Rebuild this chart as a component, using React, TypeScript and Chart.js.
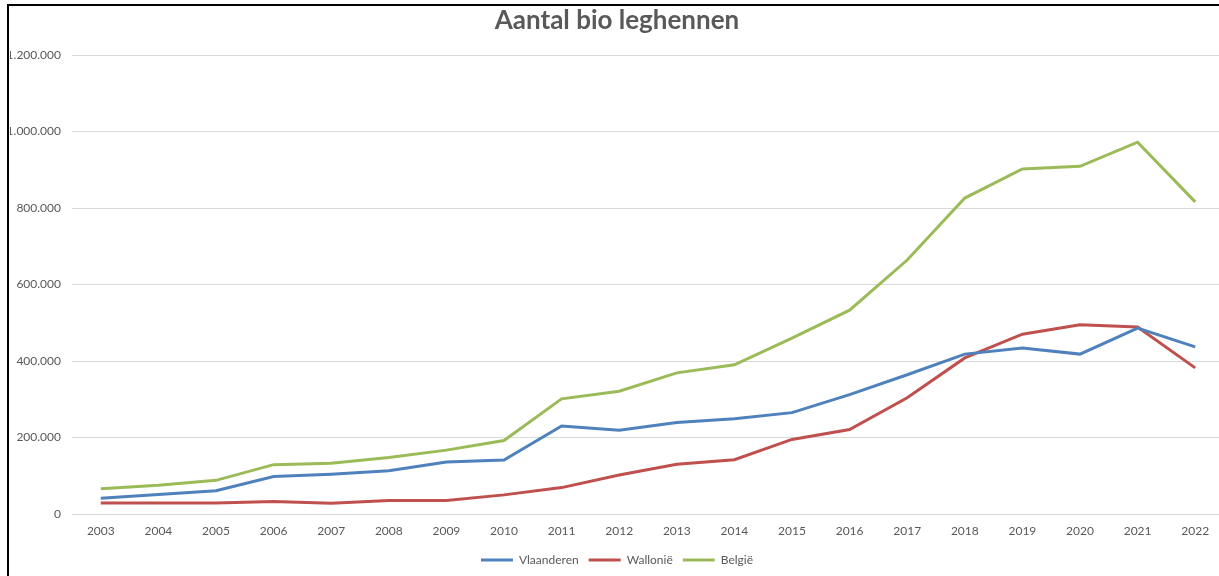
import React, { useEffect, useRef } from "react";
import { Chart, registerables } from "chart.js";

Chart.register(...registerables);

const years = ["2003", "2004", "2005", "2006", "2007", "2008", "2009", "2010", "2011", "2012", "2013", "2014", "2015", "2016", "2017", "2018", "2019", "2020", "2021", "2022"];
const vlaanderen = [41000, 51000, 61000, 98000, 104000, 113000, 136000, 141000, 230000, 219000, 239000, 249000, 265000, 312000, 364000, 418000, 434000, 418000, 486000, 437000];
const wallonie = [29000, 29000, 29000, 33000, 28000, 35000, 35000, 50000, 69000, 102000, 130000, 142000, 195000, 221000, 304000, 408000, 470000, 495000, 489000, 382000];
const belgie = [66000, 75000, 88000, 129000, 133000, 148000, 167000, 192000, 301000, 321000, 369000, 390000, 460000, 533000, 664000, 826000, 902000, 909000, 972000, 816000];
const seriesNames = ["Vlaanderen", "Wallonië", "België"];
const seriesColors = ["#4F81BD", "#C0504D", "#9BBB59"];
const chartTitle = "Aantal bio leghennen";

const fmt = (v: number) => String(Math.round(v)).replace(/\B(?=(\d{3})+(?!\d))/g, ".");

export default function App() {
  const ref = useRef<HTMLCanvasElement | null>(null);
  useEffect(() => {
    if (!ref.current) return;
    const values = [vlaanderen, wallonie, belgie];
    const chart = new Chart(ref.current, {
      type: "line",
      data: {
        labels: years,
        datasets: values.map((d, i) => ({
          label: seriesNames[i],
          data: d,
          borderColor: seriesColors[i],
          backgroundColor: seriesColors[i],
          borderWidth: 3,
          pointRadius: 0,
          tension: 0,
          fill: false,
        })),
      },
      options: {
        animation: false,
        responsive: false,
        maintainAspectRatio: false,
        layout: { padding: { left: 10, right: 0, top: 0, bottom: 0 } },
        plugins: {
          tooltip: { enabled: false },
          title: {
            display: true,
            text: chartTitle,
            color: "#595959",
            font: { family: "Lato", size: 26, weight: "bold", lineHeight: 1.2 },
            padding: { top: 5, bottom: 18.8 },
          },
          legend: {
            display: true,
            position: "bottom",
            labels: {
              color: "#595959",
              font: { family: "Lato", size: 12 },
              boxWidth: 32,
              boxHeight: 3,
              padding: 10,
              generateLabels: (c: any) => {
                const base = Chart.defaults.plugins.legend.labels.generateLabels(c);
                return base.map((l: any, i: number) => ({
                  ...l,
                  fillStyle: seriesColors[i],
                  strokeStyle: "rgba(0,0,0,0)",
                  lineWidth: 0,
                }));
              },
            },
          },
        },
        scales: {
          x: {
            offset: true,
            grid: { display: false, drawTicks: false },
            border: { display: false },
            ticks: {
              color: "#595959",
              font: { family: "Lato", size: 12 },
              padding: 10,
              maxRotation: 0,
              autoSkip: false,
            },
            afterFit: (s: any) => {
              s.height = 30;
            },
          },
          y: {
            min: 0,
            max: 1200000,
            grid: { color: "#D9D9D9", lineWidth: 1, drawTicks: false },
            border: { display: false },
            ticks: {
              stepSize: 200000,
              color: "#595959",
              font: { family: "Lato", size: 12 },
              padding: 11,
              callback: (v: any) => fmt(Number(v)),
            },
            afterFit: (s: any) => {
              s.width = 62;
            },
          },
        },
      },
    });
    return () => chart.destroy();
  }, []);

  return (
    <div style={{ position: "fixed", left: 0, top: 0, width: 1219, height: 576, overflow: "hidden", background: "#fff" }}>
      <canvas ref={ref} width={1224} height={576} style={{ position: "absolute", left: 0, top: 0, width: 1224, height: 576 }} />
      <div
        style={{
          position: "absolute",
          left: 7,
          top: 4,
          width: 1300,
          height: 700,
          borderLeft: "2px solid #000",
          borderTop: "2px solid #000",
          pointerEvents: "none",
        }}
      />
    </div>
  );
}
